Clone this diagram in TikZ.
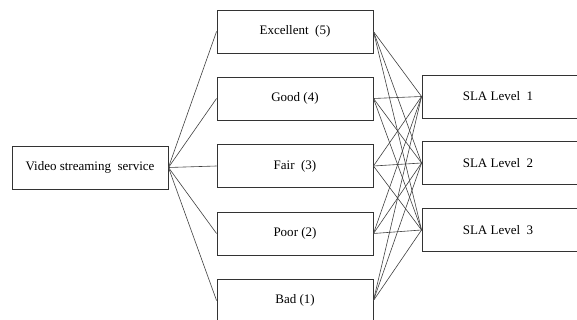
\documentclass[tikz,border=0pt]{standalone}
\usepackage{fontspec}
\setmainfont{Liberation Serif}
\begin{document}
\begin{tikzpicture}[x=1pt,y=-1pt,
  box/.style={draw=black!80,line width=0.9pt,minimum width=156pt,minimum height=43pt,inner sep=0pt,font=\rmfamily\fontsize{13}{15}\selectfont,fill=white},
  link/.style={draw=black!75,line width=0.6pt}]
\useasboundingbox (0,0) rectangle (577,320);
\clip (0,0) rectangle (577,320);
\node[box] (vs) at (90,167.5) {Video streaming\ \ service};
\node[box] (m5) at (295,31.5) {Excellent\ \ (5)};
\node[box] (m4) at (295,98.5) {Good (4)};
\node[box] (m3) at (295,166) {Fair\ \ (3)};
\node[box] (m2) at (295,233.5) {Poor (2)};
\node[box] (m1) at (295,300.5) {Bad (1)};
\node[box,minimum width=158pt] (s1) at (501,96.5) {\hspace*{-3pt}SLA Level\ \ 1\hspace*{3pt}};
\node[box,minimum width=158pt] (s2) at (501,163) {\hspace*{-3pt}SLA Level\ \ 2\hspace*{3pt}};
\node[box,minimum width=158pt] (s3) at (501,230) {\hspace*{-3pt}SLA Level\ \ 3\hspace*{3pt}};
\foreach \m in {m5,m4,m3,m2,m1} {
  \draw[link] (vs.east) -- (\m.west);
  \foreach \s in {s1,s2,s3} { \draw[link] (\m.east) -- (\s.west); }
}
\end{tikzpicture}
\end{document}
